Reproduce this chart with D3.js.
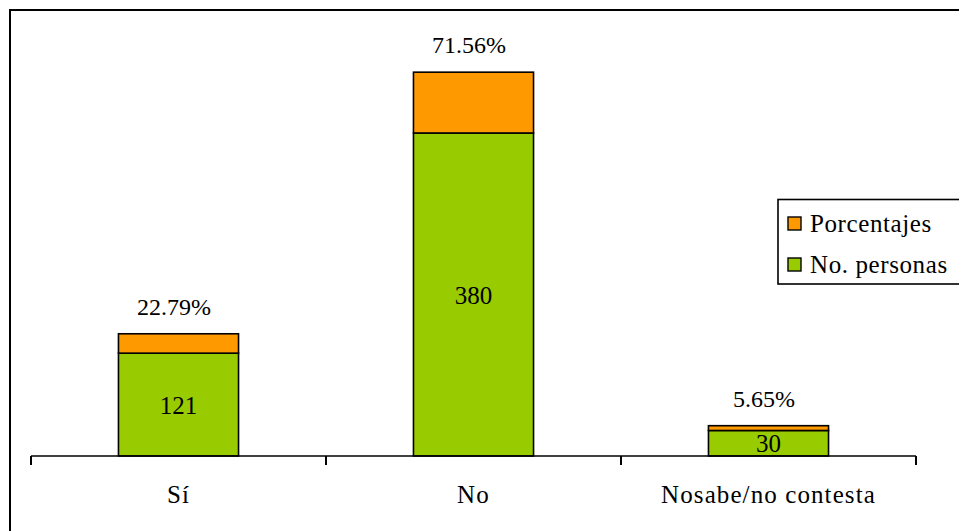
<!DOCTYPE html>
<html>
<head>
<meta charset="utf-8">
<script src="https://cdn.jsdelivr.net/npm/d3@7"></script>
</head>
<body style="margin:0;background:#fff">
<svg id="chart" width="959" height="531" style="display:block"></svg>
<script>
// Survey answers: number of people and share of the total
const categories = ["Sí", "No", "Nosabe/no contesta"];
const personas = [121, 380, 30];
const porcentajes = [22.79, 71.56, 5.65];
const seriesNames = ["Porcentajes", "No. personas"];
const yTicks = [0, 500];

const colors = { personas: "#99CC00", porcentajes: "#FF9900" };
const FONT = '"Liberation Serif", Tinos, "Nimbus Roman", FreeSerif, serif';

const svg = d3.select("#chart");

// outer chart frame (only top and left edges fall inside the canvas)
svg.append("rect")
  .attr("x", 10).attr("y", 10)
  .attr("width", 1200).attr("height", 1200)
  .attr("fill", "none").attr("stroke", "#000").attr("stroke-width", 2);

const plot = { left: 31, right: 916, top: 31, bottom: 456 };

const x = d3.scaleBand()
  .domain(categories)
  .range([plot.left, plot.right])
  .paddingInner(0.593)
  .paddingOuter(0.2965);

const y = d3.scaleLinear()
  .domain(d3.extent(yTicks))
  .range([plot.bottom, plot.top]);

const rows = categories.map((c, i) => ({ cat: c, personas: personas[i], porcentajes: porcentajes[i] }));
const stack = d3.stack().keys(["personas", "porcentajes"]);
const layers = stack(rows);

const g = svg.append("g");

layers.forEach(layer => {
  g.selectAll(null)
    .data(layer)
    .enter().append("rect")
    .attr("x", d => x(d.data.cat))
    .attr("width", x.bandwidth())
    .attr("y", d => y(d[1]))
    .attr("height", d => y(d[0]) - y(d[1]))
    .attr("fill", colors[layer.key])
    .attr("stroke", "#000")
    .attr("stroke-width", 1.6);
});

// counts centred in the green segments
g.selectAll(null)
  .data(layers[0])
  .enter().append("text")
  .attr("x", d => x(d.data.cat) + x.bandwidth() / 2)
  .attr("y", d => (y(d[0]) + y(d[1])) / 2 + 9)
  .attr("text-anchor", "middle")
  .attr("font-size", 25)
  .style("font-family", FONT)
  .attr("fill", "#000")
  .text(d => d.data.personas);

// percentages above each stacked bar
g.selectAll(null)
  .data(layers[1])
  .enter().append("text")
  .attr("x", d => x(d.data.cat) + x.bandwidth() / 2)
  .attr("dx", -4.5)
  .attr("y", d => y(d[1]) - 19)
  .attr("text-anchor", "middle")
  .attr("font-size", 24)
  .style("font-family", FONT)
  .attr("fill", "#000")
  .text(d => d.data.porcentajes.toFixed(2) + "%");

// category axis
const axis = svg.append("g");
axis.append("line")
  .attr("x1", plot.left).attr("x2", plot.right)
  .attr("y1", plot.bottom).attr("y2", plot.bottom)
  .attr("stroke", "#000").attr("stroke-width", 1.6);

const half = x.step() * x.paddingInner() / 2;
const boundaries = [plot.left].concat(categories.map(c => x(c) + x.bandwidth() + half));
axis.selectAll(null)
  .data(boundaries)
  .enter().append("line")
  .attr("x1", d => d).attr("x2", d => d)
  .attr("y1", plot.bottom).attr("y2", plot.bottom + 9)
  .attr("stroke", "#000").attr("stroke-width", 2);

axis.selectAll(null)
  .data(categories)
  .enter().append("text")
  .attr("x", d => x(d) + x.bandwidth() / 2)
  .attr("y", 503)
  .attr("text-anchor", "middle")
  .attr("font-size", 25)
  .attr("letter-spacing", 1.1)
  .style("font-family", FONT)
  .attr("fill", "#000")
  .text(d => d);

// legend
const legend = svg.append("g");
legend.append("rect")
  .attr("x", 778).attr("y", 199.5)
  .attr("width", 300).attr("height", 84.5)
  .attr("fill", "#fff").attr("stroke", "#000").attr("stroke-width", 1.6);

const legendColors = [colors.porcentajes, colors.personas];
const legendY = [217, 258];
seriesNames.forEach((name, i) => {
  legend.append("rect")
    .attr("x", 788).attr("y", legendY[i])
    .attr("width", 13).attr("height", 13)
    .attr("fill", legendColors[i])
    .attr("stroke", "#000").attr("stroke-width", 1.4);
  legend.append("text")
    .attr("x", 810).attr("y", legendY[i] + 15)
    .attr("font-size", 25)
    .attr("letter-spacing", 0.6)
    .style("font-family", FONT)
    .attr("fill", "#000")
    .text(name);
});
</script>
</body>
</html>
